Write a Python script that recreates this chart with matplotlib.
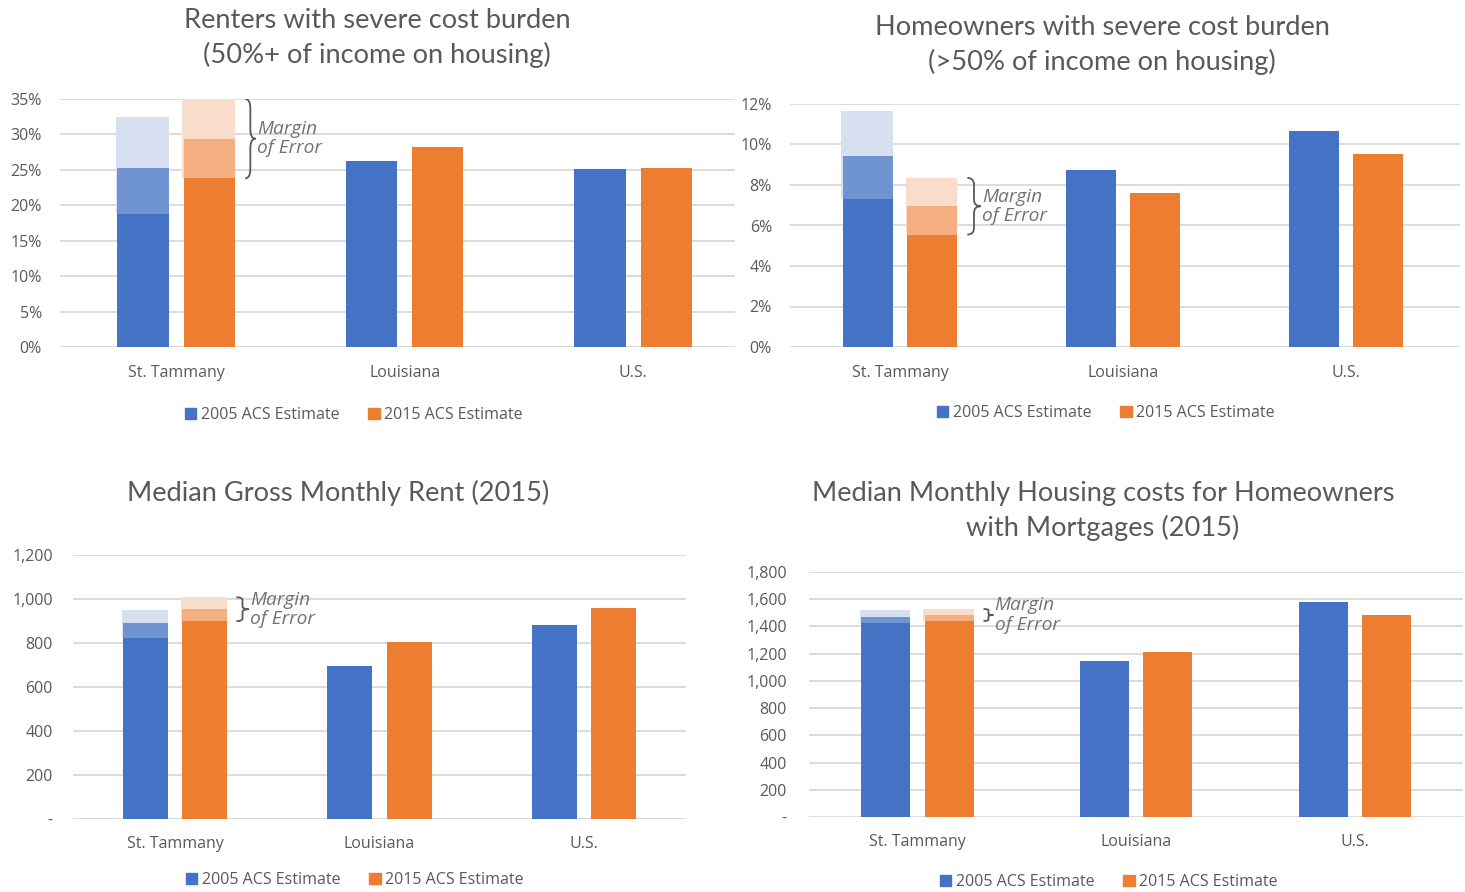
import matplotlib
matplotlib.use("Agg")
import matplotlib.pyplot as plt
from matplotlib.patches import Patch, PathPatch
from matplotlib.path import Path
from matplotlib.ticker import FuncFormatter

plt.rcParams['font.family'] = ['Open Sans', 'DejaVu Sans']

# categorias
categories = ["St. Tammany", "Louisiana", "U.S."]
legend_labels = ["2005 ACS Estimate", "2015 ACS Estimate"]

# renters, % con carga severa
renters_2005 = [25.3, 26.2, 25.1]
renters_2015 = [29.3, 28.2, 25.3]
renters_2005_moe = (18.8, 32.5)   # solo St. Tammany
renters_2015_moe = (23.8, 35.0)

# owners, % con carga severa
owners_2005 = [9.45, 8.74, 10.67]
owners_2015 = [6.96, 7.60, 9.53]
owners_2005_moe = (7.3, 11.65)
owners_2015_moe = (5.55, 8.35)

# renta mediana
rent_2005 = [889, 694, 881]
rent_2015 = [956, 803, 958]
rent_2005_moe = (821, 949)
rent_2015_moe = (899, 1008)

# costo mediano con hipoteca
mortg_2005 = [1469, 1146, 1580]
mortg_2015 = [1484, 1212, 1484]
mortg_2005_moe = (1425, 1521)
mortg_2015_moe = (1440, 1528)

BLUE = "#4472C4"
BLUE_MID = "#7094D1"
BLUE_LIGHT = "#D7E0F1"
ORANGE = "#ED7D31"
ORANGE_MID = "#F4AE80"
ORANGE_LIGHT = "#FADCCA"
GREY = "#595959"
GRID = "#D9D9D9"

W, H = 1465, 892
fig = plt.figure(figsize=(W / 100, H / 100), dpi=100)


def px_axes(x0, x1, y_top, y_bot):
    return fig.add_axes([x0 / W, (H - y_bot) / H, (x1 - x0) / W, (y_bot - y_top) / H])


def brace(ax, x, y0, y1, w):
    # llave "}" entre y0 y y1
    ym = (y0 + y1) / 2
    q = (y1 - y0) * 0.12
    xm = x + w / 2
    verts = [(x, y1), (xm, y1), (xm, y1 - q),
             (xm, ym + q),
             (xm, ym), (x + w, ym),
             (xm, ym), (xm, ym - q),
             (xm, y0 + q),
             (xm, y0), (x, y0)]
    codes = [Path.MOVETO, Path.CURVE3, Path.CURVE3,
             Path.LINETO,
             Path.CURVE3, Path.CURVE3,
             Path.CURVE3, Path.CURVE3,
             Path.LINETO,
             Path.CURVE3, Path.CURVE3]
    ax.add_patch(PathPatch(Path(verts, codes), fill=False, ec="#595959", lw=1.3, zorder=5))


def grafico(ax, v05, v15, moe05, moe15, ymax, step, fmt, xlim, width, title, title_xy,
            cat_pad, leg_xy, pad, brace_w):
    x = list(range(len(categories)))
    off = 0.145
    xb = [i - off for i in x]
    xo = [i + off for i in x]
    # barras normales (Louisiana y U.S.)
    ax.bar(xb[1:], v05[1:], width=width, color=BLUE, zorder=3)
    ax.bar(xo[1:], v15[1:], width=width, color=ORANGE, zorder=3)
    # St. Tammany con margen de error
    for xc, v, (lo, hi), c1, c2, c3 in [(xb[0], v05[0], moe05, BLUE, BLUE_MID, BLUE_LIGHT),
                                         (xo[0], v15[0], moe15, ORANGE, ORANGE_MID, ORANGE_LIGHT)]:
        ax.bar(xc - width * 0.03, hi - lo, bottom=lo, width=width, color=c3, zorder=2)
        ax.bar(xc, lo, width=width, color=c1, zorder=3)
        ax.bar(xc, v - lo, bottom=lo, width=width, color=c2, zorder=3)
        ax.bar(xc, hi - v, bottom=v, width=width, color=c3, zorder=3)
    lo, hi = moe15
    bx = xo[0] + width / 2 + 0.045
    brace(ax, bx, lo, hi, brace_w)
    ax.text(bx + brace_w + 0.006, (lo + hi) / 2, "Margin\nof Error", style="italic",
            color="#767171", fontsize=13.8, va="center", ha="left", linespacing=1.1, zorder=6)

    ax.set_ylim(0, ymax)
    ax.set_xlim(*xlim)
    ax.set_yticks(range(0, int(ymax) + 1, step))
    ax.yaxis.set_major_formatter(FuncFormatter(fmt))
    ax.set_xticks(x)
    ax.set_xticklabels(categories)
    ax.tick_params(axis="y", length=0, pad=pad, labelsize=11.5, labelcolor=GREY)
    ax.tick_params(axis="x", length=0, pad=cat_pad, labelsize=11.5, labelcolor=GREY)
    ax.grid(axis="y", color=GRID, lw=1.3, zorder=0)
    ax.set_axisbelow(True)
    for s in ax.spines.values():
        s.set_visible(False)

    handles = [Patch(color=BLUE), Patch(color=ORANGE)]
    ax.legend(handles, legend_labels, loc="center",
              bbox_to_anchor=(leg_xy[0] / W, 1 - leg_xy[1] / H), bbox_transform=fig.transFigure,
              ncol=2, frameon=False, fontsize=11.5, labelcolor=GREY,
              handlelength=0.7, handleheight=0.7, handletextpad=0.3, columnspacing=1.8)
    fig.text(title_xy[0] / W, 1 - title_xy[1] / H, title, ha="center", va="center",
             fontsize=19.6, color=GREY, linespacing=1.42, family=["Lato", "DejaVu Sans"])


pct = lambda v, p: f"{v:.0f}%"
num = lambda v, p: "-" if v == 0 else f"{v:,.0f}"

ax1 = px_axes(60, 735, 99, 347)
grafico(ax1, renters_2005, renters_2015, renters_2005_moe, renters_2015_moe, 35, 5, pct,
        (-0.508, 2.446), 0.225,
        "Renters with severe cost burden\n(50%+ of income on housing)", (377, 38),
        13, (354, 415), 13, 0.045)

ax2 = px_axes(790, 1460, 104, 347)
grafico(ax2, owners_2005, owners_2015, owners_2005_moe, owners_2015_moe, 12, 2, pct,
        (-0.493, 2.511), 0.224,
        "Homeowners with severe cost burden\n(>50% of income on housing)", (1102, 45),
        13, (1106, 413), 13, 0.06)

ax3 = px_axes(73, 686, 555, 819)
grafico(ax3, rent_2005, rent_2015, rent_2005_moe, rent_2015_moe, 1200, 200, num,
        (-0.499, 2.499), 0.22,
        "Median Gross Monthly Rent (2015)", (338, 493),
        12, (355, 880), 14.5, 0.06)

ax4 = px_axes(809, 1463, 572, 817)
grafico(ax4, mortg_2005, mortg_2015, mortg_2005_moe, mortg_2015_moe, 1800, 200, num,
        (-0.496, 2.494), 0.224,
        "Median Monthly Housing costs for Homeowners\nwith Mortgages (2015)", (1103, 511),
        12.5, (1109, 882), 16, 0.045)

fig.savefig("out.png", dpi=100)
